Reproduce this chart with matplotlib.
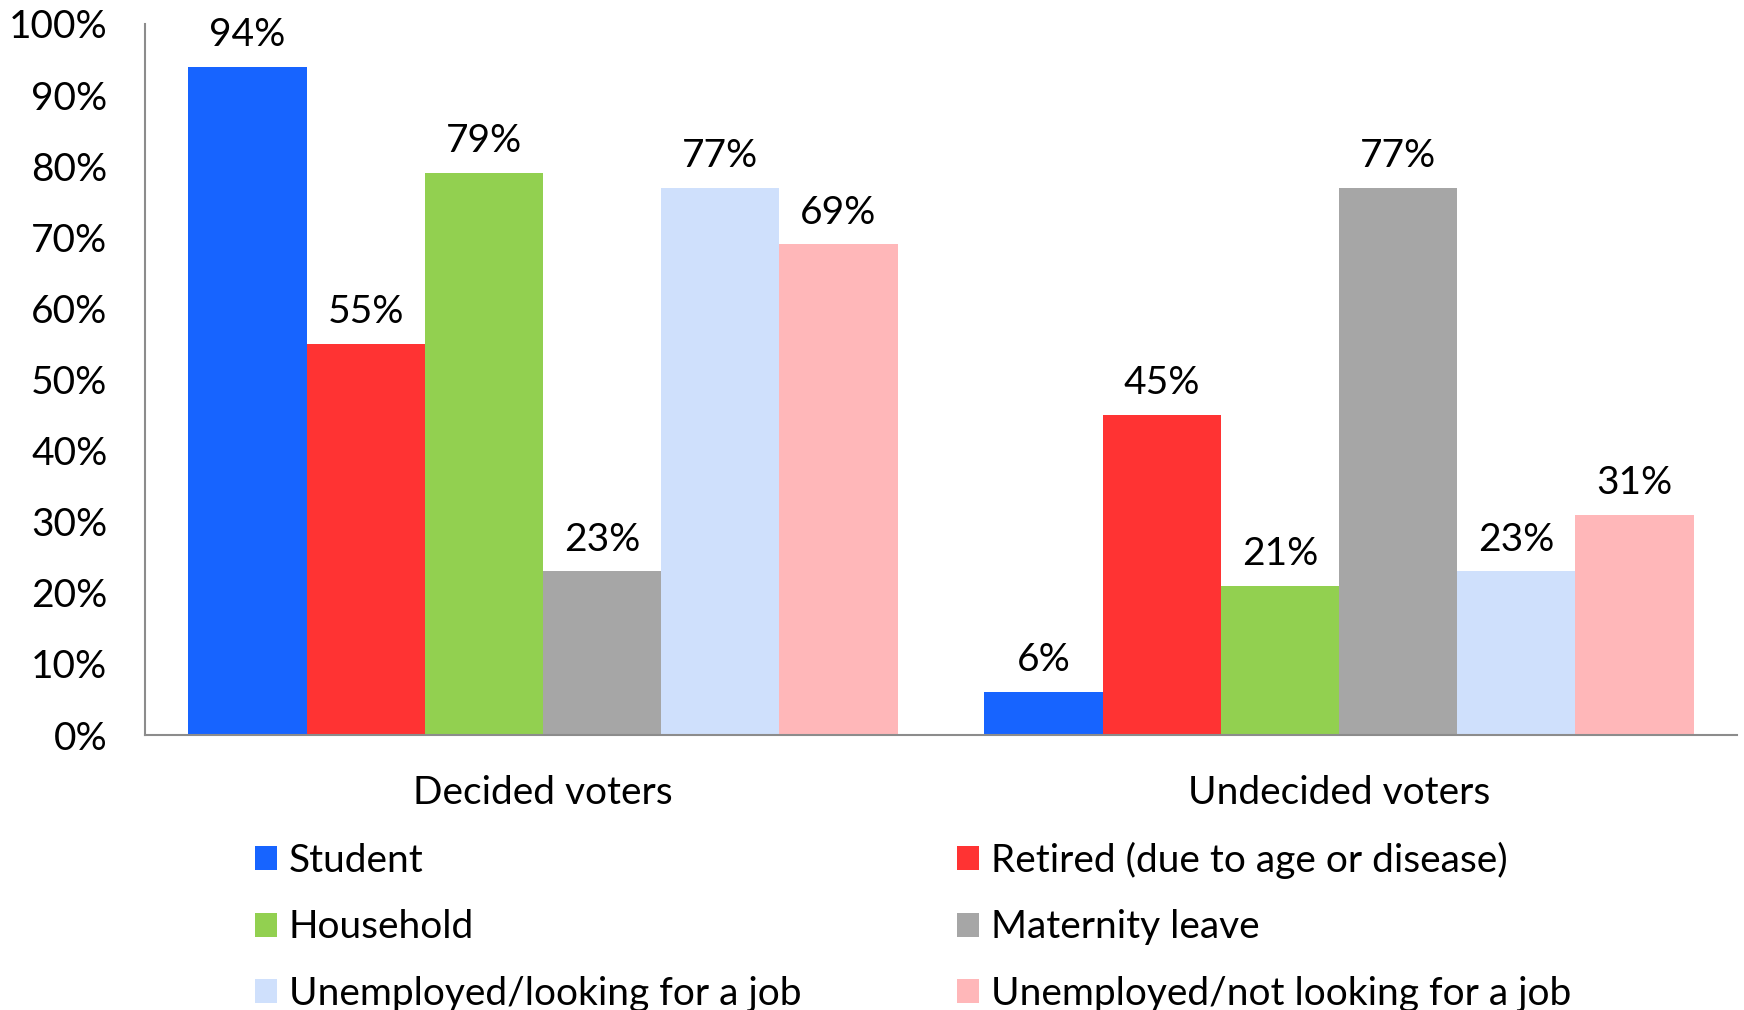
import matplotlib
matplotlib.use("Agg")
import matplotlib.pyplot as plt
import numpy as np

plt.rcParams['font.family'] = ['Lato', 'DejaVu Sans']

groups = ['Decided voters', 'Undecided voters']
series = ['Student', 'Retired (due to age or disease)', 'Household',
          'Maternity leave', 'Unemployed/looking for a job',
          'Unemployed/not looking for a job']
values = [
    [94, 6],
    [55, 45],
    [79, 21],
    [23, 77],
    [77, 23],
    [69, 31],
]
colors = ['#1764FF', '#FF3333', '#92D050', '#A6A6A6', '#CFE0FC', '#FFB7B9']
yticks = [0, 10, 20, 30, 40, 50, 60, 70, 80, 90, 100]

fs = 28
fig = plt.figure(figsize=(17.44, 10.10), dpi=100)
ax = fig.add_axes([145 / 1744, 1 - 735 / 1010, (1737 - 145) / 1744, (735 - 24) / 1010])

x = np.arange(len(groups))
w = 0.1485
handles = []
for i, (name, vals) in enumerate(zip(series, values)):
    pos = x + (i - 2.5) * w
    bars = ax.bar(pos, vals, width=w, color=colors[i], label=name, linewidth=0)
    handles.append(bars)
    for p, v in zip(pos, vals):
        ax.annotate('%d%%' % v, (p, v), xytext=(0, 10), textcoords='offset points',
                    ha='center', va='bottom', fontsize=fs)

ax.set_xlim(-0.5, 1.5)
ax.set_ylim(0, 100)
ax.set_yticks(yticks)
ax.set_yticklabels(['%d%%' % t for t in yticks], fontsize=fs)
ax.set_xticks(x)
ax.set_xticklabels(groups, fontsize=fs)
ax.tick_params(axis='both', length=0)
ax.tick_params(axis='y', pad=27)
ax.tick_params(axis='x', pad=29)
for s in ['top', 'right']:
    ax.spines[s].set_visible(False)
for s in ['left', 'bottom']:
    ax.spines[s].set_color('#8C8C8C')
    ax.spines[s].set_linewidth(1.5)

order = [0, 2, 4, 1, 3, 5]
fig.legend([handles[i] for i in order], [series[i] for i in order],
           ncol=2, loc='upper left', bbox_to_anchor=(220 / 1744, 1 - 807 / 1010),
           frameon=False, fontsize=fs, handlelength=0.57, handleheight=0.57,
           handletextpad=0.3, labelspacing=0.78, columnspacing=4.0)

fig.savefig('out.png', dpi=100)
